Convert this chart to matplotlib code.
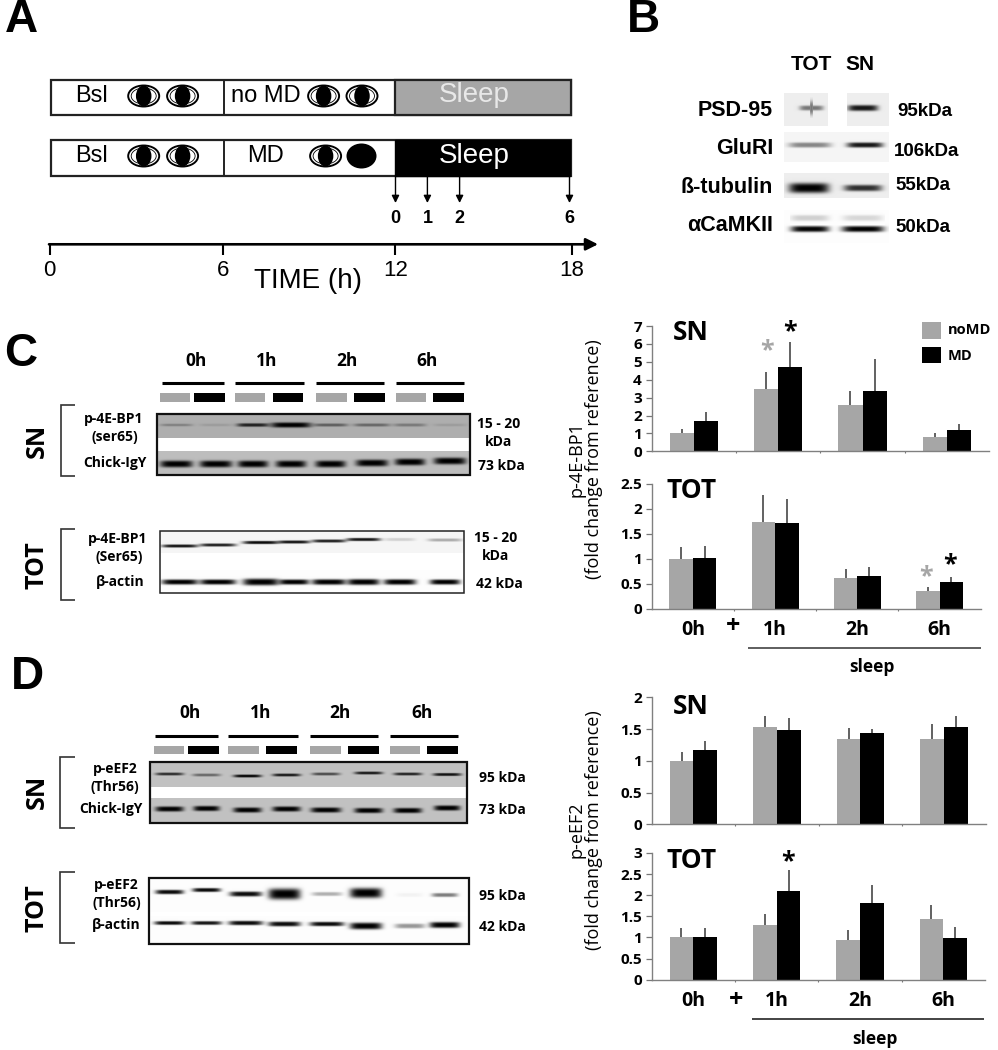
import numpy as np
import matplotlib
matplotlib.use("Agg")
import matplotlib.pyplot as plt
from matplotlib.patches import Rectangle, Ellipse

# bar data
groups = ["0h", "1h", "2h", "6h"]

c_sn_nomd = [1.0, 3.5, 2.6, 0.8]
c_sn_md = [1.7, 4.7, 3.35, 1.2]
c_sn_nomd_top = [1.22, 4.45, 3.35, 1.0]
c_sn_md_top = [2.2, 6.1, 5.15, 1.52]
c_sn_ticks = [0, 1, 2, 3, 4, 5, 6, 7]

c_tot_nomd = [1.0, 1.73, 0.62, 0.36]
c_tot_md = [1.02, 1.72, 0.66, 0.53]
c_tot_nomd_top = [1.24, 2.28, 0.8, 0.44]
c_tot_md_top = [1.25, 2.2, 0.84, 0.63]
c_tot_ticks = [0, 0.5, 1, 1.5, 2, 2.5]

d_sn_nomd = [1.0, 1.54, 1.34, 1.35]
d_sn_md = [1.17, 1.49, 1.43, 1.54]
d_sn_nomd_top = [1.14, 1.7, 1.52, 1.58]
d_sn_md_top = [1.31, 1.68, 1.5, 1.71]
d_sn_ticks = [0, 0.5, 1, 1.5, 2]

d_tot_nomd = [1.0, 1.3, 0.93, 1.43]
d_tot_md = [1.02, 2.1, 1.81, 0.99]
d_tot_nomd_top = [1.22, 1.56, 1.17, 1.77]
d_tot_md_top = [1.23, 2.59, 2.24, 1.24]
d_tot_ticks = [0, 0.5, 1, 1.5, 2, 2.5, 3]

# band darkness per lane on the blots (0 = none, 1 = black)
c_sn_p4e = [0.25, 0.1, 0.8, 1.0, 0.45, 0.4, 0.3, 0.1]
c_sn_igy = [1, 1, 1, 1, 1, 1, 1, 1]
c_tot_p4e = [0.9, 0.85, 0.95, 0.9, 0.85, 0.9, 0.15, 0.3]
c_tot_actin = [1, 1, 1, 1, 1, 1, 1, 1]
d_sn_eef2 = [0.75, 0.45, 0.95, 0.85, 0.6, 0.85, 0.8, 0.9]
d_sn_igy = [1, 1, 1, 1, 1, 1, 1, 1]
d_tot_eef2 = [0.95, 0.95, 0.95, 1.0, 0.3, 1.0, 0.04, 0.5]
d_tot_actin = [0.95, 0.9, 0.95, 0.95, 0.95, 1.0, 0.4, 1.0]

W, H = 998, 1050
GRAY = "#a6a6a6"
SANS = "Open Sans"
ARIAL = "Liberation Sans"

fig = plt.figure(figsize=(W / 100, H / 100), dpi=100)

# overlay in picture pixels for the blots, schemes and labels
ov = fig.add_axes([0, 0, 1, 1], zorder=5)
ov.patch.set_visible(False)
ov.axis("off")


def txt(x, y, s, size=9, font=SANS, weight="bold", color="black", ha="center", rot=0):
    ov.text(x, y, s, fontsize=size, family=font, fontweight=weight, color=color,
            ha=ha, va="center", rotation=rot)


def line(xs, ys, lw=1.5, color="black"):
    ov.plot(xs, ys, color=color, lw=lw, solid_capstyle="butt", solid_joinstyle="miter")


def box(x0, y0, x1, y1, fc="none", ec="none", lw=0):
    ov.add_patch(Rectangle((x0, y0), x1 - x0, y1 - y0, fc=fc, ec=ec, lw=lw))


def strip(x0, x1, y0, y1, bg, lanes, ys, darks, w, h):
    # one blot strip as a small grey image
    xx, yy = np.meshgrid(np.arange(x0, x1) + 0.5, np.arange(y0, y1) + 0.5)
    img = np.full(xx.shape, bg, dtype=float)
    ys = np.broadcast_to(ys, np.shape(lanes))
    hs = np.broadcast_to(h, np.shape(lanes))
    ws = np.broadcast_to(w, np.shape(lanes))
    for cx, cy, d, bh, bw in zip(lanes, ys, darks, hs, ws):
        band = d * np.exp(-(np.abs(xx - cx) / bw) ** 5 - (np.abs(yy - cy) / bh) ** 3)
        img = img * (1 - np.minimum(band, 1))
    ov.imshow(img, extent=(x0, x1, y1, y0), cmap="gray", vmin=0, vmax=1,
              aspect="auto", interpolation="bilinear", zorder=1)


def header(y_lab, labs, y_bar, bars, y_rect, rects):
    for x, s in labs:
        txt(x, y_lab, s, size=12.5)
    for x0, x1 in bars:
        line([x0, x1], [y_bar, y_bar], lw=2.2)
    for i, (x0, x1) in enumerate(rects):
        box(x0, y_rect, x1, y_rect + 8.5, fc=GRAY if i % 2 == 0 else "black")


def bracket(y0, y1, x0, x1):
    line([x1, x0, x0, x1], [y0, y0, y1, y1], lw=1.2, color="#333333")


def bars_panel(x0, x1, ytop, ybot, nomd, md, nomd_top, md_top, yticks, show_x):
    ax = fig.add_axes([x0 / W, 1 - ybot / H, (x1 - x0) / W, (ybot - ytop) / H], zorder=2)
    x = np.arange(len(groups))
    bw = 0.285
    ax.bar(x - bw / 2, nomd, bw, color=GRAY)
    ax.bar(x + bw / 2, md, bw, color="black")
    ax.vlines(x - bw / 2, nomd, nomd_top, color="#555555", lw=1.3)
    ax.vlines(x + bw / 2, md, md_top, color="#555555", lw=1.3)
    ax.set_xlim(-0.5, len(groups) - 0.5)
    ax.set_ylim(yticks[0], yticks[-1])
    ax.set_yticks(yticks)
    ax.set_yticklabels([str(t) for t in yticks], fontsize=11, family=SANS, fontweight="bold")
    ax.tick_params(axis="y", length=4, width=0.9, color="#777777", pad=3)
    ax.set_xticks(x[:-1] + 0.5)
    ax.set_xticklabels([])
    ax.tick_params(axis="x", which="major", length=1.5, width=0.8, color="#777777")
    ax.set_xticks(x, minor=True)
    if show_x:
        ax.set_xticklabels(groups, minor=True, fontsize=14, family=SANS, fontweight="bold")
    ax.tick_params(axis="x", which="minor", length=0, pad=8)
    for s in ["top", "right"]:
        ax.spines[s].set_visible(False)
    for s in ["left", "bottom"]:
        ax.spines[s].set_color("#808080")
        ax.spines[s].set_linewidth(1.0)
    return ax


# panel letters
txt(21, 20, "A", size=33, font=ARIAL)
txt(643, 20, "B", size=33, font=ARIAL)
txt(21, 354, "C", size=33, font=ARIAL)
txt(27, 677, "D", size=33, font=ARIAL)

# panel A, the protocol scheme
for y0, y1 in [(79.5, 115), (139.5, 176)]:
    box(51.5, y0, 571, y1, fc="white", ec="#222222", lw=1.6)
    line([224.5, 224.5], [y0, y1], lw=1.4, color="#222222")
box(395.5, 79.5, 571, 115, fc=GRAY, ec="#222222", lw=1.6)
box(395.5, 139.5, 570, 176, fc="black", ec="black", lw=1.0)
txt(474, 95, "Sleep", size=20, font=ARIAL, weight="normal", color="#e8e8e8")
txt(474, 156, "Sleep", size=20, font=ARIAL, weight="normal", color="white")
for y, mid in [(96, "no MD"), (156, "MD")]:
    txt(91.5, y, "Bsl", size=17, font=ARIAL, weight="normal")
    txt(266, y, mid, size=17, font=ARIAL, weight="normal")
for x, y in [(143.7, 96), (182.6, 96), (323.6, 96), (362, 96),
             (143.7, 156), (182.6, 156), (325.6, 156)]:
    ov.add_patch(Ellipse((x, y), 31, 21, fc="white", ec="black", lw=1.4))
    ov.add_patch(Ellipse((x, y), 25, 16, fc="white", ec="black", lw=0.6))
    ov.add_patch(Ellipse((x, y), 15.5, 21, fc="black", ec="black", lw=0))
ov.add_patch(Ellipse((361.5, 156), 30, 25, fc="black", ec="black", lw=0))
for x, s in [(395.5, "0"), (427.4, "1"), (459.6, "2"), (569.5, "6")]:
    ov.annotate("", xy=(x, 203), xytext=(x, 176),
                arrowprops=dict(arrowstyle="-|>", color="black", lw=1.0, shrinkA=0, shrinkB=0,
                                mutation_scale=11))
    txt(x, 218.5, s, size=13, font=ARIAL)
ov.annotate("", xy=(598, 244.3), xytext=(49, 244.3),
            arrowprops=dict(arrowstyle="-|>", color="black", lw=1.9, shrinkA=0, shrinkB=0,
                            mutation_scale=18))
for x, s in [(49.7, "0"), (223, "6"), (395.5, "12"), (572, "18")]:
    line([x, x], [244, 255], lw=1.5)
    txt(x, 270.5, s, size=16, font=ARIAL, weight="normal")
txt(308, 281, "TIME (h)", size=20, font=ARIAL, weight="normal")

# panel B
txt(811.7, 64, "TOT", size=15, font=ARIAL)
txt(860, 64, "SN", size=15, font=ARIAL)
for y, s in [(110.7, "PSD-95"), (149, "GluRI"), (187.7, "ß-tubulin"), (225.7, "αCaMKII")]:
    txt(773, y, s, size=15.5, font=ARIAL, ha="right")
for x, y, s in [(925, 111, "95kDa"), (926.7, 151, "106kDa"), (922.7, 185, "55kDa"), (922.7, 227, "50kDa")]:
    txt(x, y, s, size=13.5, font=ARIAL)
strip(784, 828, 93, 126, 0.93, [811.5], 108, [0.5], 12, 2.5)
strip(810, 813, 97, 118, 0.93, [811.5], 108, [0.5], 1.5, 7)
strip(847, 889, 93, 126, 0.93, [863], 108, [0.9], 15, 3)
strip(784, 889, 132, 162, 0.96, [810, 865], 145, [0.45, 0.9], [21, 18], 2.6)
strip(784, 889, 173, 198, 0.93, [809, 863], 188, [1.0, 0.8], [20, 19], [5, 3.2])
strip(784, 889, 210, 243, 0.99, [810, 863], 229, [0.98, 1.0], [19, 21], 3)
strip(790, 885, 212, 225, 0.99, [810, 863], 218, [0.18, 0.15], [19, 20], 3)

# panel C blots
header(361.5, [(195.6, "0h"), (267, "1h"), (347, "2h"), (427.5, "6h")],
       382.7, [(161.6, 224.3), (234.7, 304), (316, 384), (396, 464)],
       393.3, [(159.6, 190), (194.5, 225), (234.7, 265), (272.8, 303),
               (316.4, 346.8), (354, 384.6), (395.6, 426), (433.4, 463.8)])
lanes = [176.5, 216, 253, 291, 330.6, 372, 410, 450]
strip(157, 470, 414, 438, 0.68, lanes, 425, c_sn_p4e, [16, 16, 16, 20, 17, 18, 16, 16], [1.4, 1.4, 1.8, 2.6, 1.6, 1.6, 1.6, 1.4])
strip(157, 470, 451, 475, 0.74, lanes, [464, 464, 464, 464, 464, 463, 462, 461], c_sn_igy, [16, 16, 15, 15, 15, 16, 15, 16], 3.4)
box(157, 414, 470, 475, ec="#111111", lw=1.6)
bracket(405, 476, 61, 75.5)
txt(37.5, 441, "SN", size=18, rot=90)
txt(114, 419.5, "p-4E-BP1", size=10)
txt(115, 437.5, "(ser65)", size=10)
txt(115, 463, "Chick-IgY", size=10)
txt(498.4, 424, "15 - 20", size=10)
txt(498.4, 442.5, "kDa", size=10)
txt(501, 466, "73 kDa", size=10)

lanes = [180, 218, 261, 294, 329, 363.5, 400, 445]
strip(160, 464, 531, 553, 0.96, lanes, [546, 545, 542.5, 542, 541, 539.5, 539.5, 540], c_tot_p4e, [18, 18, 18, 16, 17, 17, 15, 17], 1.6)
strip(160, 464, 570, 593, 0.99, lanes, 582, c_tot_actin, [18, 18, 18, 15, 17, 16, 16, 15], [2.6, 2.6, 3.4, 2.6, 2.8, 3, 2.8, 2.6])
box(160, 531, 464, 593, ec="#222222", lw=1.1)
bracket(529, 599.5, 61, 75.5)
txt(37.5, 565, "TOT", size=18, rot=90)
txt(118, 539.5, "p-4E-BP1", size=10)
txt(118.7, 557.5, "(Ser65)", size=10)
txt(120, 582, "β-actin", size=10)
txt(496, 538, "15 - 20", size=10)
txt(496, 556.5, "kDa", size=10)
txt(499, 584, "42 kDa", size=10)

# panel D blots
header(713, [(189.7, "0h"), (261, "1h"), (340, "2h"), (421.6, "6h")],
       736, [(155.4, 218), (228.5, 297.7), (309.8, 378), (390.4, 457.6)],
       745.5, [(153.7, 183.8), (188.3, 218.8), (228.5, 259), (266, 296.6),
                (310, 340.6), (348, 378.7), (389.8, 420), (427.5, 458)])
lanes = [169.6, 206.6, 247.5, 286.6, 326, 368.6, 407.8, 447.2]
strip(150, 467, 762, 787, 0.76, lanes, [774, 775, 776, 775, 774, 773, 774, 774.5], d_sn_eef2, 14, 1.5)
strip(150, 467, 798, 823, 0.76, lanes, [809, 808.5, 810, 809, 810, 810.5, 810.5, 808], d_sn_igy, [14, 13, 14, 14, 15, 14, 14, 13], 2.6)
box(150, 762, 467, 823, ec="#111111", lw=1.6)
bracket(756.5, 828, 60.2, 74.8)
txt(37.5, 792, "SN", size=18, rot=90)
txt(115, 769, "p-eEF2", size=10)
txt(115.3, 787.5, "(Thr56)", size=10)
txt(110.8, 809.5, "Chick-IgY", size=10)
txt(502.6, 778.5, "95 kDa", size=10)
txt(502.6, 810.5, "73 kDa", size=10)

lanes = [169.6, 206.6, 245.8, 284.5, 327, 366, 410, 444.8]
strip(149, 469, 880, 912, 0.99, lanes, [892, 890, 894, 894, 894, 893, 895, 895], d_tot_eef2, [14, 14, 16, 16, 15, 16, 13, 13], [2.2, 2, 2.5, 5.5, 2, 5, 2, 2])
strip(149, 469, 916, 942, 0.99, lanes, [923, 923, 923, 924, 924, 926, 926, 925], d_tot_actin, [15, 15, 17, 16, 17, 16, 15, 15], [1.9, 1.9, 2.2, 2.4, 2.2, 3.4, 2.4, 3])
box(149, 878, 469, 943.5, ec="#111111", lw=1.6)
bracket(872, 943, 60.2, 74.8)
txt(37.5, 908, "TOT", size=18, rot=90)
txt(116.6, 885.5, "p-eEF2", size=10)
txt(116.6, 903.5, "(Thr56)", size=10)
txt(116.6, 925, "β-actin", size=10)
txt(502, 895.5, "95 kDa", size=10)
txt(502, 927, "42 kDa", size=10)

# bar charts
bars_panel(651.7, 989, 326, 451.3, c_sn_nomd, c_sn_md, c_sn_nomd_top, c_sn_md_top, c_sn_ticks, False)
bars_panel(651.7, 980.7, 483.7, 608.7, c_tot_nomd, c_tot_md, c_tot_nomd_top, c_tot_md_top, c_tot_ticks, True)
bars_panel(651.7, 985.7, 697.3, 824.3, d_sn_nomd, d_sn_md, d_sn_nomd_top, d_sn_md_top, d_sn_ticks, False)
bars_panel(651.7, 985, 853, 979.7, d_tot_nomd, d_tot_md, d_tot_nomd_top, d_tot_md_top, d_tot_ticks, True)

txt(691, 332, "SN", size=19)
txt(692, 491, "TOT", size=19)
txt(691, 706, "SN", size=19)
txt(692, 861, "TOT", size=19)

txt(733.5, 627, "+", size=18)
txt(736.5, 1000, "+", size=18)
line([748.3, 980.7], [647.7, 647.7], lw=1.1, color="#333333")
line([752.3, 984.3], [1019.3, 1019.3], lw=1.1, color="#111111")
txt(871.7, 667, "sleep", size=12.5)
txt(875, 1039, "sleep", size=12.5)

txt(577, 459, "p-4E-BP1", size=13, weight="normal", rot=90)
txt(594, 459, "(fold change from reference)", size=13, weight="normal", rot=90)
txt(577, 830, "p-eEF2", size=13, weight="normal", rot=90)
txt(594, 830, "(fold change from reference)", size=13, weight="normal", rot=90)

# significance stars
for x, y, c in [(767, 351, GRAY), (790, 332, "black"), (926, 577, GRAY), (950.5, 565, "black"), (788, 862, "black")]:
    txt(x, y, "*", size=18, color=c)

# legend
box(921.7, 321.7, 941, 339.3, fc=GRAY)
box(921.7, 346.7, 941, 363.3, fc="black")
txt(947.7, 330.5, "noMD", size=10.5, ha="left")
txt(947.7, 355.5, "MD", size=10.5, ha="left")

ov.set_xlim(0, W)
ov.set_ylim(H, 0)
fig.savefig("out.png", dpi=100)
